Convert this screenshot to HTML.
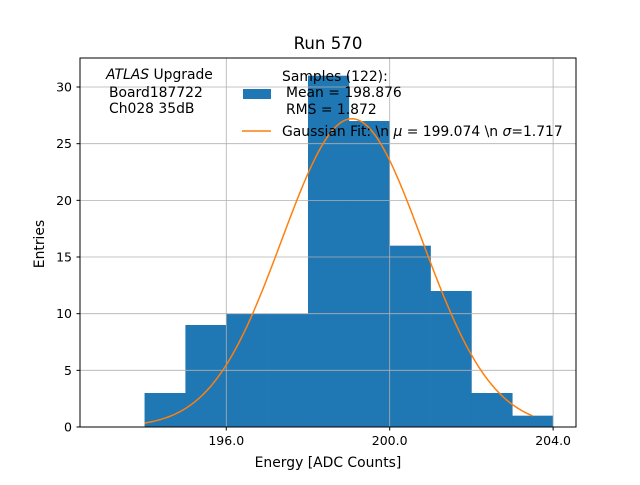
<!DOCTYPE html>
<html><head><meta charset="utf-8">
<style>
body{margin:0;background:#fff;}
svg text{font-family:"DejaVu Sans","Liberation Sans",sans-serif;}
</style></head>
<body>
<svg id="chart" width="640" height="480" xmlns="http://www.w3.org/2000/svg">
<rect width="640" height="480" fill="#fff"/>
<g id="bars"></g>
<g id="grid"></g>
<g id="fit"></g>
<rect x="80" y="58" width="496" height="369" fill="none" stroke="#000" stroke-width="1"/>
<g id="ticks"></g>
<text x="328" y="49" font-size="16.6" text-anchor="middle">Run 570</text>
<text x="328" y="467" font-size="13.9" text-anchor="middle">Energy [ADC Counts]</text>
<text x="44" y="244" font-size="13.9" text-anchor="middle" transform="rotate(-90 44 244)">Entries</text>
<g font-size="13.9">
<text x="106" y="79"><tspan font-style="italic">ATLAS</tspan> Upgrade</text>
<text x="109" y="97">Board187722</text>
<text x="109" y="113">Ch028 35dB</text>
</g>
<g font-size="13.9">
<rect x="243" y="89" width="28" height="10" fill="#1f77b4"/>
<text x="282" y="81">Samples (122):</text>
<text x="286" y="97">Mean = 198.876</text>
<text x="286" y="114">RMS = 1.872</text>
<line x1="242" y1="131" x2="271" y2="131" stroke="#ff7f0e" stroke-width="1.5"/>
<text x="282" y="136">Gaussian Fit: \n <tspan font-style="italic">μ</tspan> = 199.074 \n <tspan font-style="italic">σ</tspan>=1.717</text>
</g>
</svg>
<script>
const binEdges=[194,195,196,197,198,199,200,201,202,203,204];
const counts=[3,9,10,10,31,27,16,12,3,1];
const xTicks=[196,200,204];
const xTickLabels=["196.0","200.0","204.0"];
const yTicks=[0,5,10,15,20,25,30];
const fitMu=[199.074];
const fitSigma=[1.717];
const fitAmp=[27.2];
const fitRange=[194,203.5];
const NS="http://www.w3.org/2000/svg";
const X=v=>80+(v-192.42)*(496/(204.56-192.42));
const Y=v=>427-v*(369/32.56);
function mk(t,a,p){const e=document.createElementNS(NS,t);for(const k in a)e.setAttribute(k,a[k]);p.appendChild(e);return e;}
const grid=document.getElementById('grid'),bars=document.getElementById('bars'),fit=document.getElementById('fit'),ticks=document.getElementById('ticks');
xTicks.forEach((t,i)=>{
 const g=mk('line',{x1:X(t),x2:X(t),y1:58,y2:427,stroke:'#b0b0b0','stroke-width':0.8},grid);
 
 
 mk('line',{x1:X(t),x2:X(t),y1:427,y2:430.5,stroke:'#000'},ticks);
 const l=mk('text',{x:X(t),y:445,'font-size':12.5,'text-anchor':'middle'},ticks);
 l.textContent=xTickLabels[i];
 
 
});
yTicks.forEach(t=>{
 const g=mk('line',{x1:80,x2:576,y1:Y(t),y2:Y(t),stroke:'#b0b0b0','stroke-width':0.8},grid);
 
 
 mk('line',{x1:76.5,x2:80,y1:Y(t),y2:Y(t),stroke:'#000'},ticks);
 const l=mk('text',{x:72,y:Y(t)+4.5,'font-size':12.5,'text-anchor':'end'},ticks);
 l.textContent=t;
 
 
});
counts.forEach((c,i)=>{
 const r=mk('rect',{x:X(binEdges[i]),y:Y(c),width:X(binEdges[i+1])-X(binEdges[i])+0.3,height:Y(0)-Y(c),fill:'#1f77b4'},bars);
 
 
});
let d='';
const x0=fitRange[0],x1=fitRange[1];
for(let i=0;i<=200;i++){const x=x0+(x1-x0)*i/200;const y=fitAmp[0]*Math.exp(-0.5*((x-fitMu[0])/fitSigma[0])**2);d+=(i?'L':'M')+X(x).toFixed(2)+','+Y(y).toFixed(2);}
const p=mk('path',{d:d,fill:'none',stroke:'#ff7f0e','stroke-width':1.5},fit);


</script>
</body></html>
